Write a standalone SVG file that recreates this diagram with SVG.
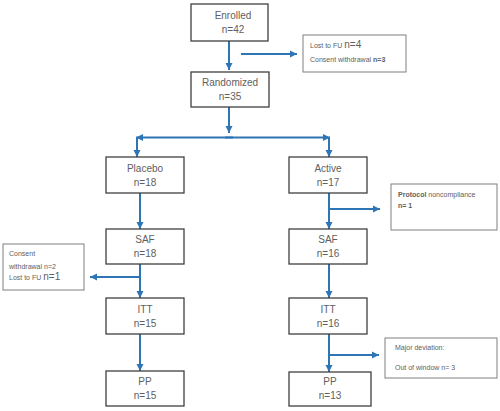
<svg xmlns="http://www.w3.org/2000/svg" width="500" height="411" viewBox="0 0 500 411">
<defs>
<marker id="ah" markerUnits="userSpaceOnUse" markerWidth="8" markerHeight="8" viewBox="0 0 8 8" refX="7" refY="4" orient="auto">
<path d="M0,0.5 L7,4 L0,7.5 Z" fill="#2E75B6"/>
</marker>
</defs>
<style>
.box{fill:#fff;stroke:#404040;stroke-width:1.3}
.xbox{fill:#fff;stroke:#7f7f7f;stroke-width:1}
.t{font-family:"Liberation Sans",Arial,sans-serif;font-size:10px;fill:#606060;text-anchor:middle}
.s{font-family:"Liberation Sans",Arial,sans-serif;font-size:7px;fill:#606060}
.c{fill:none;stroke:#2E75B6;stroke-width:2}
</style>
<rect width="500" height="411" fill="#fff"/>
<g id="connectors">
<line class="c" x1="229" y1="41" x2="229" y2="70" marker-end="url(#ah)"/>
<line class="c" x1="241" y1="54" x2="297" y2="54" marker-end="url(#ah)"/>
<line class="c" x1="229" y1="107" x2="229" y2="133" marker-end="url(#ah)"/>
<line class="c" x1="233" y1="137.5" x2="136" y2="137.5" marker-end="url(#ah)"/>
<line class="c" x1="225" y1="137.5" x2="330" y2="137.5" marker-end="url(#ah)"/>
<line class="c" x1="137" y1="137.5" x2="137" y2="157" marker-end="url(#ah)"/>
<line class="c" x1="329" y1="137.5" x2="329" y2="157" marker-end="url(#ah)"/>
<line class="c" x1="140" y1="193" x2="140" y2="229" marker-end="url(#ah)"/>
<line class="c" x1="329" y1="193" x2="329" y2="229" marker-end="url(#ah)"/>
<line class="c" x1="329" y1="209" x2="380" y2="209" marker-end="url(#ah)"/>
<line class="c" x1="140" y1="264" x2="140" y2="298" marker-end="url(#ah)"/>
<line class="c" x1="140" y1="277" x2="90" y2="277" marker-end="url(#ah)"/>
<line class="c" x1="329" y1="264" x2="329" y2="298" marker-end="url(#ah)"/>
<line class="c" x1="140" y1="334" x2="140" y2="371" marker-end="url(#ah)"/>
<line class="c" x1="329" y1="334" x2="329" y2="372" marker-end="url(#ah)"/>
<line class="c" x1="329" y1="355" x2="379" y2="355" marker-end="url(#ah)"/>
</g>
<g id="enrolled"><rect class="box" x="191" y="4" width="77" height="37"/><text class="t" x="233" y="19">Enrolled</text><text class="t" x="233" y="33">n=42</text></g>
<g id="excl1"><rect class="xbox" x="303" y="35" width="103" height="37"/><text class="s" x="310" y="48">Lost to FU  <tspan font-size="10">n=4</tspan></text><text class="s" x="310" y="62">Consent withdrawal <tspan font-weight="bold">n=3</tspan></text></g>
<g id="randomized"><rect class="box" x="191" y="72" width="78" height="35"/><text class="t" x="230" y="86">Randomized</text><text class="t" x="230" y="100">n=35</text></g>
<g id="placebo"><rect class="box" x="106" y="157" width="78" height="36"/><text class="t" x="145" y="172">Placebo</text><text class="t" x="145" y="186">n=18</text></g>
<g id="active"><rect class="box" x="289" y="157" width="78" height="36"/><text class="t" x="328" y="172">Active</text><text class="t" x="328" y="186">n=17</text></g>
<g id="excl_protocol"><rect class="xbox" x="391" y="184" width="106" height="46"/><text class="s" x="398" y="197"><tspan font-weight="bold">Protocol</tspan> noncompliance</text><text class="s" x="398" y="208" font-weight="bold">n= 1</text></g>
<g id="saf_placebo"><rect class="box" x="106" y="229" width="78" height="35"/><text class="t" x="145" y="243">SAF</text><text class="t" x="145" y="257">n=18</text></g>
<g id="saf_active"><rect class="box" x="289" y="229" width="78" height="35"/><text class="t" x="328" y="243">SAF</text><text class="t" x="328" y="257">n=16</text></g>
<g id="excl_placebo"><rect class="xbox" x="3" y="244" width="81" height="46"/><text class="s" x="9" y="256">Consent</text><text class="s" x="9" y="269">withdrawal  n=2</text><text class="s" x="9" y="280">Lost to FU  <tspan font-size="10">n=1</tspan></text></g>
<g id="itt_placebo"><rect class="box" x="106" y="298" width="78" height="36"/><text class="t" x="145" y="313">ITT</text><text class="t" x="145" y="327">n=15</text></g>
<g id="itt_active"><rect class="box" x="289" y="298" width="78" height="36"/><text class="t" x="328" y="313">ITT</text><text class="t" x="328" y="327">n=16</text></g>
<g id="excl_major"><rect class="xbox" x="385" y="338" width="112" height="40"/><text class="s" x="395" y="350">Major deviation:</text><text class="s" x="395" y="370">Out of window n= 3</text></g>
<g id="pp_placebo"><rect class="box" x="106" y="371" width="78" height="35"/><text class="t" x="145" y="385">PP</text><text class="t" x="145" y="399">n=15</text></g>
<g id="pp_active"><rect class="box" x="289" y="372" width="82" height="34"/><text class="t" x="330" y="385">PP</text><text class="t" x="330" y="399">n=13</text></g>
</svg>
